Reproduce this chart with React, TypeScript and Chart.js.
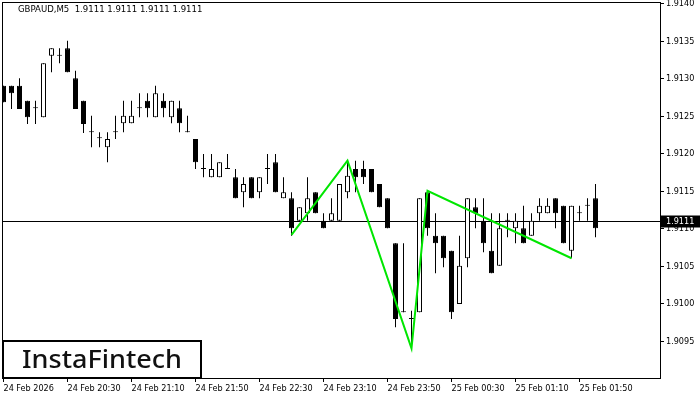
import { useEffect, useRef } from "react";
import { Chart, registerables } from "chart.js";
Chart.register(...registerables);

const symbolTitle = "GBPAUD,M5  1.9111 1.9111 1.9111 1.9111";
const logoText = "InstaFintech";
const bidPrice = 1.9111;

const opens = [
  1.91291, 1.91291, 1.91291, 1.91271, 1.91261, 1.91249, 1.91331, 1.91331, 1.91341, 1.91301,
  1.91271, 1.91229, 1.91221, 1.91209, 1.91229, 1.91241, 1.91241, 1.91261, 1.91271, 1.91249,
  1.91271, 1.91249, 1.91261, 1.91229, 1.9122, 1.9118, 1.91169, 1.91169, 1.9118, 1.91169,
  1.91149, 1.91169, 1.91149, 1.9118, 1.91189, 1.91141, 1.91141, 1.91111, 1.91121, 1.91149,
  1.91111, 1.91111, 1.91111, 1.91149, 1.9118, 1.9118, 1.9118, 1.9116, 1.91141, 1.91081,
  1.90989, 1.9098, 1.90989, 1.91149, 1.91091, 1.91091, 1.91071, 1.91, 1.91061, 1.91129,
  1.91111, 1.91071, 1.91051, 1.91111, 1.91101, 1.91101, 1.91091, 1.91121, 1.91121, 1.91141,
  1.91131, 1.91071, 1.91121, 1.91131, 1.91141,
];
const highs = [
  1.91291, 1.91291, 1.91301, 1.91271, 1.91271, 1.91321, 1.91341, 1.91341, 1.91351, 1.91311,
  1.91271, 1.91251, 1.91229, 1.91229, 1.91251, 1.91271, 1.91271, 1.91281, 1.91281, 1.91291,
  1.91281, 1.91271, 1.91271, 1.91251, 1.9122, 1.912, 1.912, 1.91189, 1.912, 1.9118,
  1.91169, 1.91169, 1.91169, 1.912, 1.912, 1.91169, 1.91149, 1.91129, 1.91169, 1.91149,
  1.91121, 1.91141, 1.9116, 1.91189, 1.91191, 1.91191, 1.9118, 1.9116, 1.91141, 1.91081,
  1.91081, 1.90991, 1.91141, 1.91149, 1.91121, 1.91091, 1.91071, 1.91091, 1.91141, 1.91141,
  1.91141, 1.91121, 1.91121, 1.91121, 1.91121, 1.91131, 1.91121, 1.91141, 1.91141, 1.91141,
  1.91131, 1.91131, 1.91131, 1.91141, 1.9116,
];
const lows = [
  1.91269, 1.9126, 1.9126, 1.9124, 1.9124, 1.91249, 1.91309, 1.91321, 1.91309, 1.9126,
  1.91228, 1.91209, 1.91209, 1.91189, 1.9122, 1.91229, 1.91241, 1.91249, 1.91249, 1.91249,
  1.91249, 1.91241, 1.91229, 1.91229, 1.9118, 1.91169, 1.91169, 1.91169, 1.9118, 1.91141,
  1.91129, 1.91141, 1.91141, 1.9116, 1.91149, 1.91141, 1.91091, 1.91111, 1.91111, 1.91121,
  1.91101, 1.91111, 1.91111, 1.91141, 1.91149, 1.9116, 1.91149, 1.91129, 1.91101, 1.90969,
  1.90989, 1.90941, 1.90989, 1.91091, 1.91041, 1.91049, 1.9098, 1.91, 1.91049, 1.91101,
  1.91069, 1.91041, 1.91051, 1.91089, 1.91081, 1.91081, 1.91091, 1.91111, 1.91121, 1.91101,
  1.91081, 1.91061, 1.91111, 1.91111, 1.91089,
];
const closes = [
  1.91269, 1.91281, 1.9126, 1.91249, 1.91261, 1.91321, 1.91341, 1.91331, 1.91309, 1.9126,
  1.9124, 1.91229, 1.91221, 1.9122, 1.91229, 1.91251, 1.91251, 1.91261, 1.91261, 1.91281,
  1.91261, 1.91271, 1.91241, 1.91229, 1.91189, 1.9118, 1.9118, 1.91189, 1.9118, 1.91141,
  1.9116, 1.91141, 1.91169, 1.9118, 1.91149, 1.91149, 1.91101, 1.91129, 1.91141, 1.91121,
  1.91101, 1.91121, 1.9116, 1.91171, 1.91169, 1.91169, 1.91149, 1.91129, 1.91101, 1.9098,
  1.90989, 1.9098, 1.91141, 1.91101, 1.91081, 1.91061, 1.90989, 1.91051, 1.91141, 1.91121,
  1.91081, 1.91041, 1.91101, 1.91111, 1.91111, 1.91081, 1.91111, 1.91131, 1.91131, 1.91121,
  1.91081, 1.91131, 1.91121, 1.91131, 1.91101,
];

const xTickLabels = [
  "24 Feb 2026", "24 Feb 20:30", "24 Feb 21:10", "24 Feb 21:50", "24 Feb 22:30",
  "24 Feb 23:10", "24 Feb 23:50", "25 Feb 00:30", "25 Feb 01:10", "25 Feb 01:50",
];
const yTickValues = [1.9095, 1.91, 1.9105, 1.911, 1.9115, 1.912, 1.9125, 1.913, 1.9135, 1.914];

const patternIndex = [36, 43, 51, 53, 71];
const patternPrice = [1.91092, 1.91191, 1.90941, 1.91151, 1.91061];

const FONT_FAMILY = "'DejaVu Sans Condensed', 'DejaVu Sans', sans-serif";

export default function App() {
  const ref = useRef<HTMLCanvasElement | null>(null);

  useEffect(() => {
    const canvas = ref.current;
    if (!canvas) return;

    const bodyData = opens.map((o, i) => ({ x: i, y: [Math.min(o, closes[i]), Math.max(o, closes[i])] }));
    const bodyColors = opens.map((o, i) => (closes[i] > o ? "#ffffff" : "#000000"));
    const wickData = highs.map((h, i) => ({ x: i, y: [lows[i], h] }));
    const patternData = patternIndex.map((x, k) => ({ x, y: patternPrice[k] }));

    const overlay = {
      id: "overlay",
      beforeDatasetsDraw(chart: any) {
        const { ctx, chartArea, scales } = chart;
        const y = Math.round(scales.y.getPixelForValue(bidPrice)) + 0.5;
        ctx.save();
        ctx.strokeStyle = "#000";
        ctx.lineWidth = 1;
        ctx.beginPath();
        ctx.moveTo(chartArea.left, y);
        ctx.lineTo(chartArea.right, y);
        ctx.stroke();
        ctx.restore();
      },
      afterDraw(chart: any) {
        const { ctx, chartArea, scales } = chart;
        ctx.save();
        ctx.strokeStyle = "#000";
        ctx.lineWidth = 1;
        ctx.strokeRect(2.5, 2.5, chartArea.right - 2, chartArea.bottom - 2);
        ctx.fillStyle = "#000";
        ctx.font = `9.5px ${FONT_FAMILY}`;
        ctx.textBaseline = "middle";
        ctx.textAlign = "left";
        ctx.fillText(symbolTitle, 18, 10);
        ctx.font = `9px ${FONT_FAMILY}`;
        const y = Math.round(scales.y.getPixelForValue(bidPrice)) + 0.5;
        ctx.fillStyle = "#000";
        ctx.fillRect(chartArea.right + 1, y - 6, 700 - chartArea.right - 1, 12);
        ctx.fillStyle = "#fff";
        ctx.fillText(bidPrice.toFixed(4), chartArea.right + 6, y);
        ctx.fillStyle = "#fff";
        ctx.fillRect(3, 341, 198, 37);
        ctx.strokeStyle = "#000";
        ctx.lineWidth = 2;
        ctx.strokeRect(3, 341, 198, 37);
        ctx.fillStyle = "#111";
        ctx.font = "500 26px 'Noto Sans', sans-serif";
        const w = ctx.measureText(logoText).width;
        ctx.translate(22, 361);
        ctx.scale(160 / w, 1);
        ctx.textBaseline = "middle";
        ctx.fillText(logoText, 0, 0);
        ctx.restore();
      },
    };

    const tickFont = { family: FONT_FAMILY, size: 9 };

    const chart = new Chart(canvas, {
      type: "bar",
      data: {
        datasets: [
          {
            type: "line",
            data: patternData,
            borderColor: "#00e600",
            borderWidth: 2,
            pointRadius: 0,
            order: 0,
          } as any,
          {
            data: bodyData,
            backgroundColor: bodyColors,
            borderColor: "#000",
            borderWidth: 1,
            borderSkipped: false,
            barThickness: 5,
            minBarLength: 1,
            grouped: false,
            inflateAmount: 0,
            order: 1,
          } as any,
          {
            data: wickData,
            backgroundColor: "#000",
            borderWidth: 0,
            barThickness: 1,
            grouped: false,
            inflateAmount: 0,
            order: 2,
          } as any,
        ],
      },
      options: {
        animation: false,
        responsive: false,
        events: [],
        layout: { padding: { left: 2, top: 3, right: 0, bottom: 0 } },
        plugins: { legend: { display: false }, tooltip: { enabled: false } },
        scales: {
          x: {
            type: "linear",
            offset: false,
            min: -0.1875,
            max: 82.0625,
            afterBuildTicks: (s: any) => {
              s.ticks = xTickLabels.map((_, k) => ({ value: k * 8 }));
            },
            afterFit: (s: any) => {
              s.height = 22;
              s.paddingLeft = 0;
              s.paddingRight = 0;
            },
            ticks: {
              align: "start",
              autoSkip: false,
              maxRotation: 0,
              padding: 1,
              color: "#000",
              font: tickFont,
              callback: (_v: any, idx: number) => xTickLabels[idx],
            },
            grid: { offset: false, drawOnChartArea: false, drawTicks: true, tickLength: 4, color: "#000" },
            border: { display: false },
          },
          y: {
            position: "right",
            min: 1.909013,
            max: 1.914013,
            afterBuildTicks: (s: any) => {
              s.ticks = yTickValues.map((v) => ({ value: v }));
            },
            afterFit: (s: any) => {
              s.width = 40;
              s.paddingTop = 0;
              s.paddingBottom = 0;
            },
            ticks: {
              padding: 2,
              color: "#000",
              font: tickFont,
              callback: (v: any) => Number(v).toFixed(4),
            },
            grid: { drawOnChartArea: false, drawTicks: true, tickLength: 4, color: "#000" },
            border: { display: false },
          },
        },
      } as any,
      plugins: [overlay],
    });

    return () => chart.destroy();
  }, []);

  return (
    <div style={{ position: "fixed", left: 0, top: 0, width: 700, height: 400, background: "#fff" }}>
      <canvas ref={ref} width={700} height={400} style={{ display: "block", width: 700, height: 400 }} />
    </div>
  );
}
